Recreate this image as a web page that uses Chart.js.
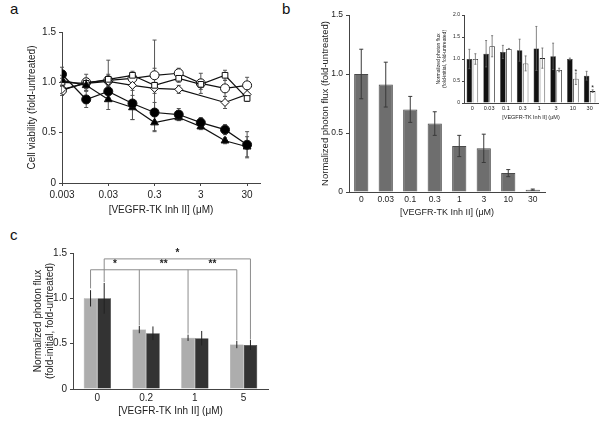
<!DOCTYPE html>
<html lang="en">
<head>
<meta charset="UTF-8">
<title>VEGFR-TK Inh II</title>
<script src="https://cdn.jsdelivr.net/npm/chart.js"></script>
<style>
  body { margin: 0; background: #fff; width: 600px; height: 421px; position: relative; overflow: hidden;
         font-family: "Liberation Sans", Arial, sans-serif; }
  canvas { position: absolute; }
  .lbl { position: absolute; font-size: 15px; color: #111; line-height: 1; }
</style>
</head>
<body>
<div class="lbl" style="left:10px;top:1px">a</div>
<div class="lbl" style="left:282px;top:1px">b</div>
<div class="lbl" style="left:10px;top:227px">c</div>

<canvas id="chartA" style="left:0;top:0" width="280" height="220"></canvas>
<canvas id="chartB" style="left:290px;top:0" width="265" height="222"></canvas>
<canvas id="chartInset" style="left:420px;top:0" width="180" height="125"></canvas>
<canvas id="chartC" style="left:0;top:225px" width="290" height="196"></canvas>

<script>
// ---- panel a : viability vs concentration ----
const concA = [0.003, 0.01, 0.03, 0.1, 0.3, 1, 3, 10, 30];
const xTicksA = [0.003, 0.03, 0.3, 3, 30];
const xTickLabelsA = ['0.003', '0.03', '0.3', '3', '30'];
const filledCircle    = [1.08, 0.83, 0.91, 0.79, 0.70, 0.68, 0.60, 0.53, 0.38];
const filledCircleErr = [0.07, 0.08, 0.06, 0.16, 0.10, 0.06, 0.05, 0.05, 0.13];
const filledTri       = [1.02, 0.97, 0.83, 0.75, 0.60, 0.65, 0.56, 0.42, 0.36];
const filledTriErr    = [0.05, 0.05, 0.10, 0.12, 0.09, 0.03, 0.03, 0.03, 0.10];
const openCircle      = [0.92, 1.00, 1.02, 1.04, 1.07, 1.09, 0.99, 0.94, 0.97];
const openCircleErr   = [0.05, 0.08, 0.20, 0.04, 0.07, 0.05, 0.10, 0.08, 0.08];
const openSquare      = [1.00, 0.99, 1.03, 1.07, 0.97, 1.04, 0.98, 1.07, 0.84];
const openSquareErr   = [0.04, 0.05, 0.05, 0.04, 0.45, 0.04, 0.05, 0.05, 0.03];
const openDiamond     = [0.93, 0.99, 1.01, 0.97, 0.94, 0.93, null, 0.80, 0.88];
const openDiamondErr  = [0.04, 0.05, 0.05, 0.05, 0.05, 0.04, 0, 0.06, 0.05];

// ---- panel b : main bars ----
const catsB = ['0', '0.03', '0.1', '0.3', '1', '3', '10', '30'];
const fluxB    = [1.00, 0.91, 0.70, 0.58, 0.39, 0.37, 0.16, 0.02];
const fluxBErr = [0.21, 0.19, 0.11, 0.10, 0.09, 0.12, 0.03, 0.005];

// ---- panel b inset ----
const insetBlack    = [1.00, 1.12, 1.16, 1.20, 1.24, 1.06, 1.00, 0.62];
const insetBlackErr = [0.22, 0.30, 0.15, 0.25, 0.50, 0.30, 0.02, 0.10];
const insetWhite    = [1.00, 1.29, 1.23, 0.90, 1.02, 0.75, 0.55, 0.27];
const insetWhiteErr = [0.12, 0.24, 0.01, 0.17, 0.23, 0.04, 0.13, 0.03];

// ---- panel c ----
const catsC = ['0', '0.2', '1', '5'];
const lightC    = [1.00, 0.655, 0.565, 0.49];
const lightCErr = [0.09, 0.04, 0.035, 0.04];
const darkC     = [1.00, 0.615, 0.56, 0.485];
const darkCErr  = [0.17, 0.075, 0.08, 0.055];

const xTitle = '[VEGFR-TK Inh II] (\u03bcM)';
const FONT = '"Liberation Sans", Arial, sans-serif';
const INK = '#222';
const AXIS = '#444';

function drawErrors(chart, o) {
  const ctx = chart.ctx, ys = chart.scales.y;
  ctx.save();
  ctx.strokeStyle = o.color || '#333';
  ctx.lineWidth = o.width || 1;
  chart.data.datasets.forEach((ds, di) => {
    if (!ds.errors) return;
    chart.getDatasetMeta(di).data.forEach((el, i) => {
      const raw = ds.data[i];
      const v = (raw && typeof raw === 'object') ? raw.y : raw;
      const e = ds.errors[i];
      if (v == null || !e) return;
      const x = el.x;
      const y1 = ys.getPixelForValue(v + e), y2 = ys.getPixelForValue(v - e);
      ctx.beginPath();
      ctx.moveTo(x, y1); ctx.lineTo(x, y2);
      if (o.cap) {
        ctx.moveTo(x - o.cap, y1); ctx.lineTo(x + o.cap, y1);
        ctx.moveTo(x - o.cap, y2); ctx.lineTo(x + o.cap, y2);
      }
      ctx.stroke();
    });
  });
  ctx.restore();
}

const errorBars = {
  id: 'errorBars',
  beforeDatasetsDraw(chart, args, o) { if (o.behind) drawErrors(chart, o); },
  afterDatasetsDraw(chart, args, o) { if (!o.behind) drawErrors(chart, o); }
};

// significance brackets and stars, placed from element positions
const marks = {
  id: 'marks',
  afterDatasetsDraw(chart, args, o) {
    const ctx = chart.ctx, ys = chart.scales.y;
    ctx.save();
    (o.brackets || []).forEach(b => {
      const yy = ys.getPixelForValue(b.y);
      const xs = b.drops.map(d => chart.getDatasetMeta(d[1]).data[d[0]].x);
      ctx.strokeStyle = o.color; ctx.lineWidth = 1;
      ctx.beginPath();
      ctx.moveTo(xs[0], yy); ctx.lineTo(xs[xs.length - 1], yy);
      b.drops.forEach((d, k) => { ctx.moveTo(xs[k], yy); ctx.lineTo(xs[k], ys.getPixelForValue(d[2])); });
      ctx.stroke();
      ctx.fillStyle = INK;
      ctx.font = o.font;
      ctx.textAlign = 'center'; ctx.textBaseline = 'bottom';
      b.marks.forEach((m, k) => ctx.fillText(m, (xs[k] + xs[k + 1]) / 2, yy + o.dy));
    });
    (o.stars || []).forEach(s => {
      const ds = chart.data.datasets[s.ds];
      const el = chart.getDatasetMeta(s.ds).data[s.i];
      ctx.fillStyle = INK; ctx.font = o.font;
      ctx.textAlign = 'center'; ctx.textBaseline = 'bottom';
      ctx.fillText(s.text, el.x, ys.getPixelForValue(ds.data[s.i] + ds.errors[s.i]) + o.dy);
    });
    ctx.restore();
  }
};

function yLabel(v) { return v === 0 ? '0' : v.toFixed(1); }

function axisY(max, step, size, width, title) {
  return {
    min: 0, max: max,
    ticks: { stepSize: step, callback: yLabel, color: INK, font: { family: FONT, size: size }, padding: 3 },
    grid: { display: true, drawOnChartArea: false, color: AXIS, tickLength: 3 },
    border: { color: AXIS },
    title: { display: true, text: title, color: INK, font: { family: FONT, size: size }, padding: 2 },
    afterFit(s) { s.width = width; }
  };
}

function xCat(size, height, titleSize) {
  return {
    ticks: { color: INK, font: { family: FONT, size: size }, maxRotation: 0, autoSkip: false, padding: 3 },
    grid: { display: false, drawTicks: false, tickLength: 0 },
    border: { color: AXIS },
    title: { display: true, text: xTitle, color: INK, font: { family: FONT, size: titleSize }, padding: { top: 2 } },
    afterFit(s) { s.height = height; }
  };
}

const common = {
  responsive: false, animation: false,
  events: []
};

// ---- chart a ----
const shapeA = [
  { d: filledCircle, e: filledCircleErr, style: 'circle', r: 4.5, fill: '#000' },
  { d: filledTri, e: filledTriErr, style: 'triangle', r: 4.5, fill: '#000' },
  { d: openSquare, e: openSquareErr, style: 'rect', r: 4, fill: '#fff' },
  { d: openDiamond, e: openDiamondErr, style: 'rectRot', r: 4, fill: '#fff' },
  { d: openCircle, e: openCircleErr, style: 'circle', r: 4.5, fill: '#fff' }
];

new Chart(document.getElementById('chartA'), {
  type: 'line',
  data: {
    datasets: shapeA.map(s => ({
      data: concA.map((c, i) => ({ x: c, y: s.d[i] })),
      errors: s.e,
      borderColor: '#111', borderWidth: 1.2, tension: 0, spanGaps: true,
      pointStyle: s.style, pointRadius: s.r, pointBackgroundColor: s.fill,
      pointBorderColor: '#111', pointBorderWidth: 1
    }))
  },
  options: Object.assign({}, common, {
    layout: { padding: { left: 24, right: 20, top: 32, bottom: 0 } },
    plugins: { legend: { display: false }, tooltip: { enabled: false },
               errorBars: { behind: true, color: '#555', width: 1, cap: 2 } },
    scales: {
      x: {
        type: 'logarithmic', min: 0.003, max: 57,
        afterBuildTicks(s) { s.ticks = xTicksA.map(v => ({ value: v })); },
        ticks: { callback: v => xTickLabelsA[xTicksA.indexOf(v)], color: INK, autoSkip: false, maxRotation: 0,
                 font: { family: FONT, size: 10 }, padding: 3 },
        grid: { display: true, drawOnChartArea: false, color: AXIS, tickLength: 3 },
        border: { color: AXIS },
        title: { display: true, text: xTitle, color: INK, font: { family: FONT, size: 10 }, padding: { top: 2 } },
        afterFit(s) { s.height = 37; }
      },
      y: axisY(1.5, 0.5, 10, 38, 'Cell viability (fold-untreated)')
    }
  }),
  plugins: [errorBars]
});

// ---- chart b ----
const yB = axisY(1.5, 0.5, 8.5, 31, 'Normalized photon flux (fold-untreated)');
yB.title.font.size = 9.5;
new Chart(document.getElementById('chartB'), {
  type: 'bar',
  data: {
    labels: catsB,
    datasets: [{ data: fluxB, errors: fluxBErr, backgroundColor: '#6e6e6e', borderColor: '#4a4a4a',
                 borderWidth: 1, barPercentage: 0.58, categoryPercentage: 1 }]
  },
  options: Object.assign({}, common, {
    layout: { padding: { left: 28, right: 10, top: 15, bottom: 0 } },
    plugins: { legend: { display: false }, tooltip: { enabled: false },
               errorBars: { color: '#3a3a3a', width: 1, cap: 2 } },
    scales: { x: xCat(8.5, 30, 9), y: yB }
  }),
  plugins: [errorBars]
});

// ---- inset ----
const yIn = axisY(2.0, 0.5, 5, 28, ['Normalized photon flux', '(fold-initial, fold-untreated)']);
yIn.title.padding = 0;
yIn.grid.tickLength = 2;
yIn.ticks.padding = 2;
const xIn = xCat(5.5, 22, 5.5);
xIn.ticks.padding = 2;
new Chart(document.getElementById('chartInset'), {
  type: 'bar',
  data: {
    labels: catsB,
    datasets: [
      { data: insetBlack, errors: insetBlackErr, backgroundColor: '#111', borderColor: '#111', borderWidth: 0.5,
        barPercentage: 0.92, categoryPercentage: 0.72 },
      { data: insetWhite, errors: insetWhiteErr, backgroundColor: '#fff', borderColor: '#222', borderWidth: 0.8,
        barPercentage: 0.92, categoryPercentage: 0.72 }
    ]
  },
  options: Object.assign({}, common, {
    layout: { padding: { left: 16, right: 2, top: 15, bottom: 0 } },
    plugins: { legend: { display: false }, tooltip: { enabled: false },
               errorBars: { color: '#666', width: 0.8, cap: 1 },
               marks: { font: '7px ' + FONT, dy: 2, color: '#666',
                        stars: [{ ds: 1, i: 6, text: '*' }, { ds: 1, i: 7, text: '*' }] } },
    scales: { x: xIn, y: yIn }
  }),
  plugins: [errorBars, marks]
});

// ---- chart c ----
const bracketsC = [
  { y: 1.315, drops: [[0, 0, 1.11], [1, 0, 0.70], [2, 0, 0.61], [3, 0, 0.535]], marks: ['*', '**', '**'] },
  { y: 1.435, drops: [[0, 1, 1.18], [3, 1, 0.545]], marks: ['*'] }
];
new Chart(document.getElementById('chartC'), {
  type: 'bar',
  data: {
    labels: catsC,
    datasets: [
      { data: lightC, errors: lightCErr, backgroundColor: '#adadad', borderColor: '#8a8a8a', borderWidth: 0.5,
        barPercentage: 1, categoryPercentage: 0.56 },
      { data: darkC, errors: darkCErr, backgroundColor: '#333', borderColor: '#222', borderWidth: 0.5,
        barPercentage: 1, categoryPercentage: 0.56 }
    ]
  },
  options: Object.assign({}, common, {
    layout: { padding: { left: 30, right: 22, top: 28, bottom: 0 } },
    plugins: { legend: { display: false }, tooltip: { enabled: false },
               errorBars: { color: '#222', width: 1, cap: 0 },
               marks: { font: 'bold 10px ' + FONT, dy: -1, color: '#8c8c8c', brackets: bracketsC } },
    scales: { x: xCat(10, 32, 10),
              y: axisY(1.5, 0.5, 10, 43, ['Normalized photon flux', '(fold-initial, fold-untreated)']) }
  }),
  plugins: [errorBars, marks]
});
</script>
</body>
</html>
